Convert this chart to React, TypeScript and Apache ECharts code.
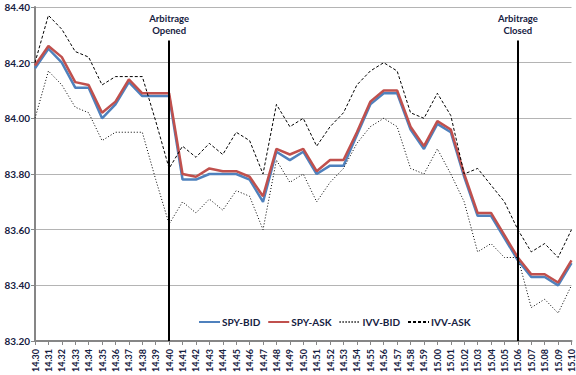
import React, { useEffect, useRef } from "react";
import * as echarts from "echarts";

const categories = [
  "14.30", "14.31", "14.32", "14.33", "14.34", "14.35", "14.36", "14.37", "14.38", "14.39",
  "14.40", "14.41", "14.42", "14.43", "14.44", "14.45", "14.46", "14.47", "14.48", "14.49",
  "14.50", "14.51", "14.52", "14.53", "14.54", "14.55", "14.56", "14.57", "14.58", "14.59",
  "15.00", "15.01", "15.02", "15.03", "15.04", "15.05", "15.06", "15.07", "15.08", "15.09", "15.10",
];

const spyBid = [
  84.18, 84.25, 84.2, 84.11, 84.11, 84.0, 84.05, 84.13, 84.08, 84.08,
  84.08, 83.78, 83.78, 83.8, 83.8, 83.8, 83.78, 83.7, 83.88, 83.85,
  83.88, 83.8, 83.83, 83.83, 83.94, 84.05, 84.09, 84.09, 83.96, 83.89,
  83.98, 83.95, 83.79, 83.65, 83.65, 83.57, 83.49, 83.43, 83.43, 83.4, 83.48,
];

const spyAsk = [
  84.19, 84.26, 84.22, 84.13, 84.12, 84.02, 84.06, 84.14, 84.09, 84.09,
  84.09, 83.8, 83.79, 83.82, 83.81, 83.81, 83.79, 83.72, 83.89, 83.87,
  83.89, 83.81, 83.85, 83.85, 83.95, 84.06, 84.1, 84.1, 83.97, 83.9,
  83.99, 83.96, 83.8, 83.66, 83.66, 83.58, 83.5, 83.44, 83.44, 83.41, 83.49,
];

const ivvBid = [
  84.0, 84.17, 84.12, 84.04, 84.02, 83.92, 83.95, 83.95, 83.95, 83.78,
  83.62, 83.7, 83.66, 83.71, 83.67, 83.74, 83.72, 83.6, 83.85, 83.77,
  83.8, 83.7, 83.77, 83.82, 83.91, 83.97, 84.0, 83.97, 83.82, 83.8,
  83.89, 83.8, 83.7, 83.52, 83.55, 83.5, 83.5, 83.32, 83.35, 83.3, 83.4,
];

const ivvAsk = [
  84.2, 84.37, 84.32, 84.24, 84.22, 84.12, 84.15, 84.15, 84.15, 83.99,
  83.82, 83.9, 83.86, 83.91, 83.87, 83.95, 83.92, 83.8, 84.05, 83.97,
  84.0, 83.9, 83.97, 84.02, 84.12, 84.17, 84.2, 84.17, 84.02, 84.0,
  84.09, 84.01, 83.8, 83.82, 83.76, 83.7, 83.6, 83.52, 83.55, 83.5, 83.6,
];

const yMin = 83.2;
const yMax = 84.4;
const yStep = 0.2;

const events = [
  { at: "14.40", text: "Arbitrage\nOpened" },
  { at: "15.06", text: "Arbitrage\nClosed" },
];
const eventTop = 84.28;

const FONT = "Lato, 'Open Sans', sans-serif";
const TEXT = "#16213f";

export default function App() {
  const ref = useRef<HTMLDivElement>(null);

  useEffect(() => {
    if (!ref.current) return;
    const chart = echarts.init(ref.current, null, { renderer: "svg" });

    const mk = (name: string, data: number[], color: string, width: number, type: any, extra: any = {}) => ({
      name,
      type: "line",
      data,
      showSymbol: false,
      symbol: "none",
      lineStyle: { color, width, type },
      itemStyle: { color },
      emphasis: { disabled: true },
      ...extra,
    });

    chart.setOption({
      animation: false,
      backgroundColor: "#ffffff",
      textStyle: { fontFamily: FONT },
      grid: { left: 35, right: 4, top: 7, bottom: 33 },
      legend: {
        left: 193,
        top: 312,
        itemWidth: 21,
        itemHeight: 10,
        itemGap: 7,
        itemStyle: { opacity: 0 },
        textStyle: { fontFamily: FONT, fontSize: 10, fontWeight: "bold", color: TEXT, padding: [0, 0, 0, -3] },
        data: ["SPY-BID", "SPY-ASK", "IVV-BID", "IVV-ASK"],
      },
      xAxis: {
        type: "category",
        data: categories,
        boundaryGap: false,
        axisLine: { lineStyle: { color: "#868686", width: 2 } },
        axisTick: { show: true, length: 4, interval: 0, lineStyle: { color: "#868686", width: 1 } },
        axisLabel: {
          interval: 0,
          rotate: 90,
          fontFamily: FONT,
          fontSize: 9,
          fontWeight: "bold",
          color: TEXT,
          margin: 8,
        },
        splitLine: { show: false },
      },
      yAxis: {
        type: "value",
        min: yMin,
        max: yMax,
        interval: yStep,
        axisLine: { show: true, lineStyle: { color: "#868686", width: 2 } },
        axisTick: { show: true, length: 4, lineStyle: { color: "#868686", width: 1 } },
        axisLabel: {
          fontFamily: FONT,
          fontSize: 10,
          fontWeight: "bold",
          color: TEXT,
          margin: 5,
          formatter: (v: number) => v.toFixed(2),
        },
        splitLine: { lineStyle: { color: "#b4b4b4", width: 1 } },
      },
      series: [
        mk("SPY-BID", spyBid, "#4f81bd", 2.5, "solid", {
          markLine: {
            silent: true,
            symbol: ["none", "none"],
            animation: false,
            lineStyle: { color: "#000000", width: 2, type: "solid" },
            label: {
              show: true,
              position: "start",
              fontFamily: FONT,
              fontSize: 9.5,
              fontWeight: "bold",
              color: TEXT,
              lineHeight: 12,
              distance: 4,
            },
            data: events.map((e) => [
              { xAxis: e.at, yAxis: eventTop, label: { formatter: e.text } },
              { xAxis: e.at, yAxis: yMin },
            ]),
          },
        }),
        mk("SPY-ASK", spyAsk, "#c0504d", 2.5, "solid"),
        mk("IVV-BID", ivvBid, "#000000", 1, [1, 2]),
        mk("IVV-ASK", ivvAsk, "#000000", 1, [3, 2]),
      ],
    });

    return () => chart.dispose();
  }, []);

  return (
    <div
      ref={ref}
      style={{ position: "fixed", left: 0, top: 0, width: 576, height: 375, background: "#fff" }}
    />
  );
}
